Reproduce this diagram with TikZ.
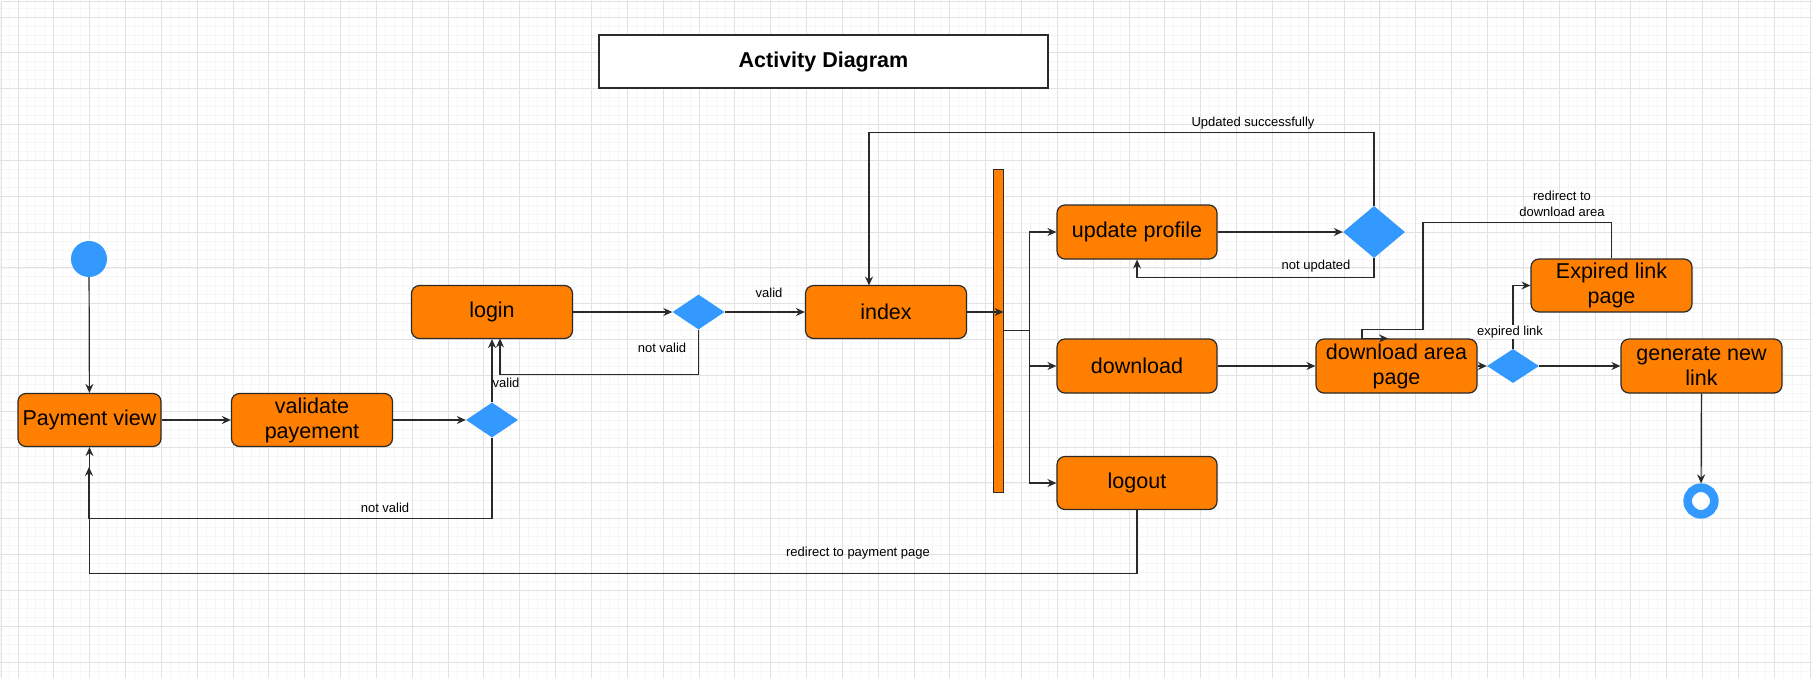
\documentclass[tikz,border=0pt]{standalone}
\usepackage{fontspec}
\setmainfont{Liberation Sans}
\usetikzlibrary{positioning,backgrounds,shapes.geometric,arrows.meta}
\definecolor{actorange}{HTML}{FF8000}
\definecolor{actblue}{HTML}{3399FF}
\definecolor{actline}{HTML}{2A2A2A}
\definecolor{gridmajor}{HTML}{E2E2E2}
\definecolor{gridminor}{HTML}{F6F6F6}
\tikzset{
  act/.style={draw=actline, line width=1.2pt, fill=actorange, rounded corners=8pt,
    minimum width=161pt, minimum height=53pt, inner sep=0pt, align=center,
    font=\fontsize{21.5}{25}\selectfont},
  dec/.style={diamond, fill=actblue, inner sep=0pt, minimum width=52pt, minimum height=35pt},
  lbl/.style={font=\fontsize{13}{16}\selectfont, inner sep=1pt, align=center},
  flow/.style={draw=actline, line width=1.2pt, -{Stealth[length=9pt,width=8pt,inset=3pt]}},
  link/.style={draw=actline, line width=1.2pt},
}

\begin{document}
\begin{tikzpicture}[x=1pt,y=-1pt]
\useasboundingbox (0,0) rectangle (1812,678);
\node[draw=actline, line width=1.2pt, fill=white, minimum width=449pt, minimum height=53pt,
  font=\bfseries\fontsize{21.5}{25}\selectfont] (title) at (823.5,61.5) {Activity Diagram};
\node[circle, fill=actblue, minimum size=36pt, inner sep=0pt] (start) at (89,259) {};
\node[act, minimum width=143pt] (pay) at (89.5,420) {Payment view};
\node[act] (valid) at (312,420) {validate\\payement};
\node[dec] (d1) at (492,420) {};
\node[act] (login) at (492,312) {login};
\node[dec] (d2) at (698.5,312) {};
\node[act] (index) at (886,312) {index};
\node[draw=actline, line width=1pt, fill=actorange, minimum width=10pt, minimum height=323pt,
  inner sep=0pt] (fork) at (998,330.5) {};
\node[act, minimum width=160pt, minimum height=54pt] (upd) at (1137,232) {update profile};
\node[act, minimum width=160pt, minimum height=54pt] (dl) at (1137,366) {download};
\node[act, minimum width=160pt] (logout) at (1137,483) {logout};
\node[dec, minimum width=62pt, minimum height=52pt] (d3) at (1374,232) {};
\node[act, minimum height=54pt] (dap) at (1396.5,366) {download area\\page};
\node[dec, minimum height=34pt] (d4) at (1513,366) {};
\node[act] (exp) at (1611.5,285.5) {Expired link\\page};
\node[act, minimum height=54pt] (gen) at (1701.5,366) {generate new\\link};
\node[circle, draw=actblue, line width=8.7pt, fill=white, minimum size=26.6pt, inner sep=0pt] (stop) at (1701,501) {};
\coordinate (payin) at (89,467);
\coordinate (loginin) at (500,338.5);
\coordinate (indexin) at (869,285.5);

\draw[flow] (start) -- (pay);
\draw[flow] (pay) -- (valid);
\draw[flow] (valid) -- (d1);
\draw[flow] (d1) -- (login);
\draw[flow] (d1.south) -- ++(0,81) -| (payin);
\draw[flow] (login) -- (d2);
\draw[flow] (d2) -- (index);
\draw[flow] (d2.south) -- ++(0,45) -| (loginin);
\draw[flow] (index) -- (index -| fork.east);
\draw[link] (fork.east) -- ++(26,0) coordinate (split);
\draw[flow] (split) |- (upd);
\draw[flow] (split) |- (dl);
\draw[flow] (split) |- (logout);
\draw[flow] (upd) -- (d3);
\draw[flow] (d3.north) -- ++(0,-73) -| (indexin);
\draw[flow] (d3.south) -- ++(0,19) -| (upd.south);
\draw[flow] (dl) -- (dap);
\draw[flow] (dap) -- (d4);
\draw[flow] (d4) -- (gen);
\draw[flow] (d4.north) |- (exp.west);
\draw[flow] (exp.north) -- ++(0,-36) -- ++(-188.5,0) -- ++(0,107) -- ++(-61,0) -- ++(0,9) -- ++(26,0);
\draw[flow] (gen) -- (stop);
\draw[flow] (logout.south) -- ++(0,63) -| (pay.south);

\node[lbl] (lbvalida) at (506,383) {valid};
\node[lbl] (lbnotvalida) at (385,508) {not valid};
\node[lbl] (lbvalidb) at (769,293) {valid};
\node[lbl] (lbnotvalidb) at (662,348) {not valid};
\node[lbl] (lbupdated) at (1253,123) {Updated successfully};
\node[lbl] (lbnotupd) at (1316,266) {not updated};
\node[lbl, fill=white] (lbexpired) at (1510,332) {expired link};
\node[lbl] (lbredirect) at (1562,204) {redirect to\\download area};
\node[lbl] (lbpayback) at (858,553) {redirect to payment page};

\begin{scope}[on background layer]
\foreach \gx in {0,...,202} \draw[gridminor, line width=0.7pt] ({\gx*8.96},0) -- ({\gx*8.96},678);
\foreach \gy in {0,...,74} \draw[gridminor, line width=0.7pt] (0,{8.04+\gy*8.96}) -- (1812,{8.04+\gy*8.96});
\foreach \gx in {0,...,50} \draw[gridmajor, line width=0.9pt] ({18+\gx*35.84},0) -- ({18+\gx*35.84},678);
\foreach \gy in {0,...,18} \draw[gridmajor, line width=0.9pt] (0,{17+\gy*35.84}) -- (1812,{17+\gy*35.84});
\draw[gridmajor, line width=0.9pt] (1.5,1.5) -- (1812,1.5) (1.5,1.5) -- (1.5,678);
\end{scope}
\end{tikzpicture}
\end{document}
